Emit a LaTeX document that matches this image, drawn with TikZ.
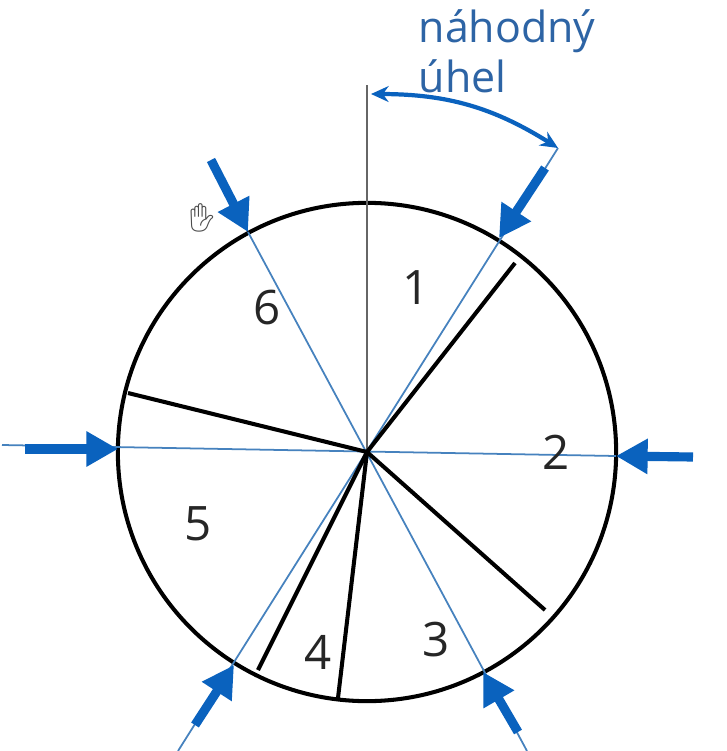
\documentclass[tikz,border=0pt]{standalone}
\usepackage{fontspec}
\setmainfont{Open Sans}
\newfontfamily\handfont{Noto Emoji}
\usetikzlibrary{arrows.meta, positioning}
\definecolor{markblue}{RGB}{10,98,190}
\definecolor{thinblue}{RGB}{70,130,190}
\definecolor{textblue}{RGB}{45,100,165}
\tikzstyle{rim} = [circle, minimum size = 4.98cm, inner sep = 0, draw = black,
  line width = 1.15pt]
\tikzstyle{spoke} = [draw = black, line width = 1.15pt]
\tikzstyle{cutline} = [draw = thinblue, line width = 0.5pt]
\tikzstyle{pointer} = [draw = markblue, line width = 2.6pt,
  -{Triangle[length = 9pt, width = 9.5pt]}]
\tikzstyle{sweep} = [draw = markblue, line width = 1.2pt,
  {Stealth[length = 5pt, width = 4.5pt]}-{Stealth[length = 5pt, width = 4.5pt]}]
\tikzstyle{num} = [font = \fontsize{13.5}{16}\selectfont, text = black!85, inner sep = 0]
\tikzstyle{word} = [font = \fontsize{12.2}{14}\selectfont, text = textblue, inner sep = 0]

\begin{document}
\begin{tikzpicture}[x = 0.01cm, y = -0.01cm]
      \useasboundingbox (0, 0) rectangle (726, 751);
      \fill [white] (0, 0) rectangle (726, 751);
      % wheel
      \node [rim] (rim) at (367, 452) {};
      \coordinate (hub) at (367, 452);
      % spoke ends
      \coordinate (spoke-1) at (515, 263);
      \coordinate (spoke-2) at (545, 610);
      \coordinate (spoke-3) at (338, 698);
      \coordinate (spoke-4) at (258, 670);
      \coordinate (spoke-5) at (128, 393);
      % cut ends
      \coordinate (cut-top) at (367, 85);
      \coordinate (cut-a) at (558, 148);
      \coordinate (cut-b) at (616, 456);
      \coordinate (cut-c) at (527, 751);
      \coordinate (cut-d) at (178, 751);
      \coordinate (cut-e) at (2, 445);
      \coordinate (cut-f) at (248, 232);
      \coordinate (sweep-end) at (371, 94);
      % arrow tails
      \coordinate (tail-a) at (545, 168);
      \coordinate (tail-b) at (693, 457);
      \coordinate (tail-c) at (518, 732);
      \coordinate (tail-d) at (195, 725);
      \coordinate (tail-e) at (25, 449);
      \coordinate (tail-f) at (211, 160);
      % arrow tips
      \coordinate (tip-a) at (499, 238);
      \coordinate (tip-b) at (616, 456);
      \coordinate (tip-c) at (483, 672);
      \coordinate (tip-d) at (234, 665);
      \coordinate (tip-e) at (118, 449);
      \coordinate (tip-f) at (248, 232);

      \draw [draw = black!60, line width = 0.5pt] (cut-top) -- (hub);
      \draw [cutline] (cut-a) -- (cut-d);
      \draw [cutline] (cut-e) -- (cut-b);
      \draw [cutline] (cut-f) -- (cut-c);

      \foreach \n in {1, ..., 5}
        \draw [spoke] (hub) -- (spoke-\n);

      \foreach \n in {a, ..., f}
        \draw [pointer] (tail-\n) -- (tip-\n);

      \draw [sweep] (sweep-end) to [bend left = 16] (cut-a);

      % sector numbers
      \node [num] (num-1) at (416, 288) {1};
      \node [num] (num-2) at (556, 452) {2};
      \node [num] (num-3) at (436, 640) {3};
      \node [num] (num-4) at (318, 652) {4};
      \node [num] (num-5) at (198, 524) {5};
      \node [num] (num-6) at (267, 308) {6};

      \node [word, anchor = base west] (word-a) at (418, 42) {náhodný};
      \node [word, anchor = base west] (word-b) at (418, 92) {úhel};

      \node [font = \handfont\fontsize{8}{8}\selectfont, text = black!70, inner sep = 0]
        (hand) at (202, 218) {✋};
    \end{tikzpicture}
\end{document}
